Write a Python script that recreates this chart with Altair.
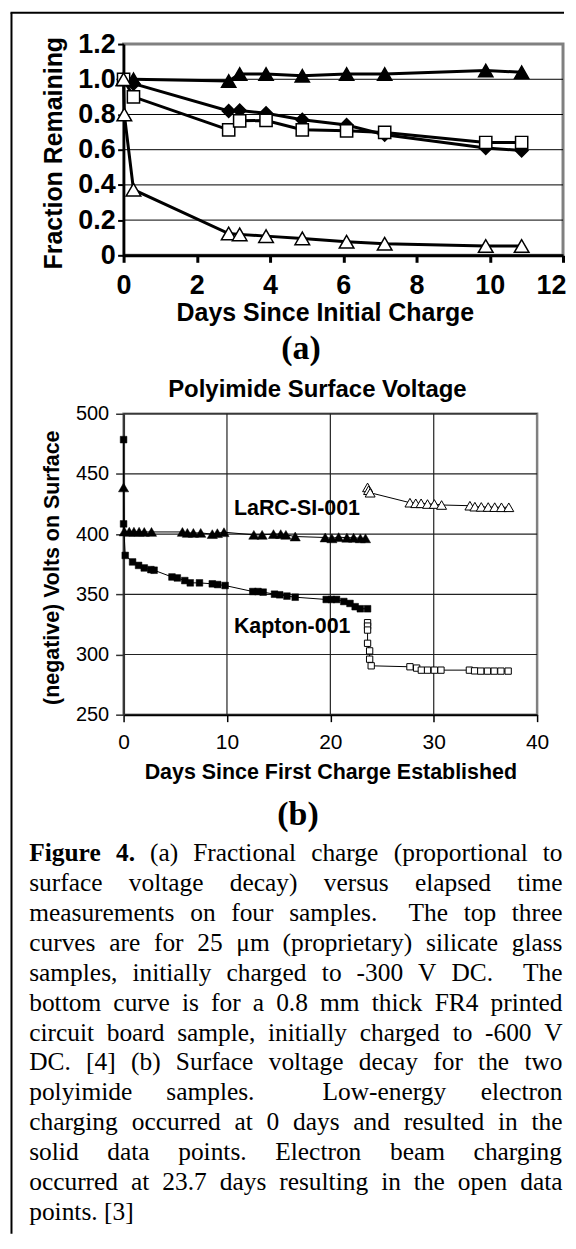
import altair as alt
import pandas as pd

# ---------------- panel (a): fraction remaining ----------------
a_days = [0, 0.27, 2.87, 3.17, 3.89, 4.88, 6.09, 7.13, 9.89, 10.87]
a_tri_filled = [1.0, 1.0, 0.99, 1.03, 1.03, 1.02, 1.03, 1.03, 1.05, 1.04]
a_diamond = [1.0, 0.975, 0.82, 0.823, 0.807, 0.77, 0.74, 0.685, 0.61, 0.595]
a_square_open = [1.0, 0.90, 0.713, 0.764, 0.766, 0.713, 0.707, 0.698, 0.641, 0.641]
a_days_tri_open = [0, 0.02, 0.27, 2.87, 3.17, 3.89, 4.88, 6.09, 7.13, 9.89, 10.87]
a_tri_open = [1.0, 0.80, 0.373, 0.124, 0.119, 0.109, 0.096, 0.077, 0.066, 0.053, 0.053]
a_x_ticks = [0, 2, 4, 6, 8, 10, 12]
a_y_ticks = [0, 0.2, 0.4, 0.6, 0.8, 1.0, 1.2]
a_grid = [0.2, 0.4, 0.6, 0.8, 1.0]

# ---------------- panel (b): polyimide surface voltage ----------------
kapton_solid_days = [0, 0, 0.16, 0.87, 1.45, 2.0, 2.64, 2.95, 4.68, 5.2, 5.92, 6.45,
                     7.34, 8.58, 9.1, 9.82, 12.5, 13.0, 13.5, 14.6, 15.1, 15.8, 16.6,
                     19.6, 20.1, 20.6, 21.3, 21.9, 22.4, 22.9, 23.6]
kapton_solid_v = [478.5, 408.5, 382.3, 376.9, 374, 371.9, 370.5, 370, 364.4, 363.6,
                  361.4, 359.5, 359.5, 358.7, 358.1, 357.3, 352.3, 352.3, 351.8, 350.1,
                  349.6, 348.5, 347.6, 345.7, 345.7, 345.7, 344, 342.4, 339.7, 338, 338]
kapton_open_days = [23.6, 23.6, 23.6, 23.6, 23.8, 23.8, 23.95, 27.7, 28.35, 28.8, 29.4,
                    30.06, 30.7, 33.45, 33.95, 34.55, 35.2, 35.85, 36.5, 37.2]
kapton_open_v = [326.4, 323.6, 320.3, 309.3, 303, 296.1, 290.6, 289.8, 288.7, 287, 287,
                 287, 287, 287, 286.4, 286.2, 286.2, 286.2, 286.2, 286.2]
larc_solid_days = [0, 0.07, 0.55, 1.0, 1.5, 2.0, 2.7, 5.69, 6.17, 6.75, 7.46, 8.58, 9.07,
                   9.71, 12.6, 13.4, 14.5, 15.2, 15.7, 16.6, 19.5, 20.15, 20.8, 21.6,
                   22.25, 22.9, 23.4]
larc_solid_v = [438.8, 402.2, 402, 402, 402, 401.8, 401.8, 401.8, 401, 401, 401, 400,
                400.8, 401.6, 399.4, 399.4, 400, 400, 399.4, 398, 397.2, 396.5, 397.5,
                397, 397, 396.5, 396.5]
larc_open_days = [23.6, 23.7, 23.85, 27.7, 28.26, 28.78, 29.4, 30.06, 30.76, 33.5, 33.98,
                  34.6, 35.27, 35.9, 36.55, 37.26]
larc_open_v = [438.8, 436.5, 434.4, 426.1, 425.6, 425.6, 425, 425, 424.2, 423.6, 422.8,
               422.6, 422.5, 422.4, 422.3, 422.3]
b_x_ticks = [0, 10, 20, 30, 40]
b_y_ticks = [250, 300, 350, 400, 450, 500]
b_grid_x = [10, 20, 30]
b_grid_y = [300, 350, 400, 450, 500]
b_labels = ["LaRC-SI-001", "Kapton-001"]
b_label_days = [10.67, 10.67]
b_label_volts = [415.8, 318.2]
b_title = "Polyimide Surface Voltage"

# ---------------- caption ----------------
caption_lines = [
    "Figure 4. (a) Fractional charge (proportional to",
    "surface voltage decay) versus elapsed time",
    "measurements on four samples.  The top three",
    "curves are for 25 \u03bcm (proprietary) silicate glass",
    "samples, initially charged to -300 V DC.  The",
    "bottom curve is for a 0.8 mm thick FR4 printed",
    "circuit board sample, initially charged to -600 V",
    "DC. [4] (b) Surface voltage decay for the two",
    "polyimide samples.  Low-energy electron",
    "charging occurred at 0 days and resulted in the",
    "solid data points. Electron beam charging",
    "occurred at 23.7 days resulting in the open data",
    "points. [3]",
]

# ---------------- layout constants (page pixels) ----------------
ORIGIN_X = 123.0
A_W, A_H = 441, 212
B_W, B_H = 415, 302
SPACING = 159
A_TOP = 42.0
B_TOP = A_TOP + A_H + SPACING
C_TOP = B_TOP + B_H + SPACING
CAP_FS = 25.5
CAP_LEFT, CAP_RIGHT = 28.3, 563.5
CAP_BASE0, CAP_STEP = 862, 30

SANS = "Liberation Sans"
SERIF = "Liberation Serif"

# Times-compatible advance widths (per 1000 em) for the justified caption
_tr = {' ': 250, '(': 333, ')': 333, ',': 250, '-': 333, '.': 250, '[': 333, ']': 333,
       'A': 722, 'B': 667, 'C': 667, 'D': 722, 'E': 611, 'F': 556, 'G': 722, 'H': 722,
       'I': 333, 'J': 389, 'K': 722, 'L': 611, 'M': 889, 'N': 722, 'O': 722, 'P': 556,
       'Q': 722, 'R': 667, 'S': 556, 'T': 611, 'U': 722, 'V': 722, 'W': 944, 'X': 722,
       'Y': 722, 'Z': 611, 'a': 444, 'b': 500, 'c': 444, 'd': 500, 'e': 444, 'f': 333,
       'g': 500, 'h': 500, 'i': 278, 'j': 278, 'k': 500, 'l': 278, 'm': 778, 'n': 500,
       'o': 500, 'p': 500, 'q': 500, 'r': 333, 's': 389, 't': 278, 'u': 500, 'v': 500,
       'w': 722, 'x': 500, 'y': 500, 'z': 444, '\u03bc': 500}
_tb = {'F': 611, 'i': 278, 'g': 500, 'u': 556, 'r': 444, 'e': 444, '4': 500, '.': 250}


def tw(word, bold=False):
    tab = _tb if bold else _tr
    return sum(tab.get(ch, _tr.get(ch, 500)) for ch in word) / 1000.0


W_EM = (CAP_RIGHT - CAP_LEFT) / CAP_FS
cap_rows = []
for li, line in enumerate(caption_lines):
    toks = line.split(' ')
    bolds = [li == 0 and ti < 2 for ti in range(len(toks))]
    widths = [tw(t, b) for t, b in zip(toks, bolds)]
    nsp = len(toks) - 1
    if li < len(caption_lines) - 1 and nsp > 0:
        sp = (W_EM - sum(widths)) / nsp
    else:
        sp = 0.25
    xx = 0.0
    for t, w, b in zip(toks, widths, bolds):
        if t:
            cap_rows.append({"word": t, "line": li, "xem": xx, "bold": b})
        xx += w + sp
cap_df = pd.DataFrame(cap_rows)

# ---------------- dataframes ----------------
rows = []
for name, dd, vv in [("tri_filled", a_days, a_tri_filled), ("diamond", a_days, a_diamond),
                     ("square_open", a_days, a_square_open),
                     ("tri_open", a_days_tri_open, a_tri_open)]:
    for i, (d, v) in enumerate(zip(dd, vv)):
        rows.append({"series": name, "day": d, "value": v, "order": i})
a_df = pd.DataFrame(rows)
a_grid_df = pd.DataFrame({"value": a_grid})

rows = []
for name, dd, vv in [("kapton_solid", kapton_solid_days, kapton_solid_v),
                     ("kapton_open", kapton_open_days, kapton_open_v),
                     ("larc_solid", larc_solid_days, larc_solid_v),
                     ("larc_open", larc_open_days, larc_open_v)]:
    for i, (d, v) in enumerate(zip(dd, vv)):
        rows.append({"series": name, "day": d, "volts": v, "order": i})
b_df = pd.DataFrame(rows)
b_gx_df = pd.DataFrame({"day": b_grid_x})
b_gy_df = pd.DataFrame({"volts": b_grid_y})
b_lab_df = pd.DataFrame({"label": b_labels, "day": b_label_days, "volts": b_label_volts})
one = pd.DataFrame({"t": ["(a)"]})
one_b = pd.DataFrame({"t": ["(b)"]})
one_title = pd.DataFrame({"t": [b_title]})

# ---------------- chart (a) ----------------
xa = alt.X("day:Q", scale=alt.Scale(domain=[0, 12], nice=False, zero=False),
           axis=alt.Axis(values=a_x_ticks, grid=False, title="Days Since Initial Charge",
                         labelFlush=False,
                         domainColor="black", domainWidth=3, tickColor="black", tickWidth=3,
                         tickSize=7, labelFont=SANS, labelFontWeight="bold", labelFontSize=27,
                         labelColor="black", labelPadding=10,
                         labelOffset={"condition": {"test": "datum.value == 12", "value": -12},
                                      "value": 0},
                         titleFont=SANS, titleFontWeight="bold", titleFontSize=25,
                         titleColor="black", titleX=202, titleY=65, titleAlign="center",
                         titleBaseline="alphabetic"))
ya = alt.Y("value:Q", scale=alt.Scale(domain=[0, 1.2], nice=False, zero=False),
           axis=alt.Axis(values=a_y_ticks, grid=False, title="Fraction Remaining",
                         labelExpr="datum.value == 0 ? '0' : format(datum.value, '.1f')",
                         labelFlush=False,
                         domainColor="black", domainWidth=2.5, tickColor="black", tickWidth=2,
                         tickSize=6, labelFont=SANS, labelFontWeight="bold", labelFontSize=27,
                         labelColor="black", labelPadding=2.5,
                         titleFont=SANS, titleFontWeight="bold", titleFontSize=25,
                         titleColor="black", titleX=-57, titleY=109, titleAngle=270,
                         titleBaseline="bottom"))

a_base = alt.Chart(a_df)
a_gridl = alt.Chart(a_grid_df).mark_rule(color="black", strokeWidth=1).encode(y=ya)
a_lines = a_base.mark_line(color="black", strokeWidth=3).encode(
    x=xa, y=ya, detail="series:N", order="order:Q")


def a_pts(series, shape, size, fill):
    return a_base.transform_filter(alt.datum.series == series).mark_point(
        shape=shape, size=size, filled=True, fill=fill, stroke="black",
        strokeWidth=1.5, opacity=1).encode(x=xa, y=ya)


a_label = alt.Chart(one).mark_text(font=SERIF, fontWeight="bold", fontSize=34,
                                   align="center", baseline="alphabetic",
                                   color="black").encode(
    x=alt.value(301 - ORIGIN_X), y=alt.value(358 - A_TOP), text="t:N")
# outer figure frame (left and top edges; the rest lies outside the crop)
border_v = alt.Chart(one).mark_rule(color="black", strokeWidth=2).encode(
    x=alt.value(10.5 - ORIGIN_X), y=alt.value(10.5 - A_TOP), y2=alt.value(1236 - A_TOP))
border_h = alt.Chart(one).mark_rule(color="black", strokeWidth=2).encode(
    x=alt.value(9.5 - ORIGIN_X), x2=alt.value(565 - ORIGIN_X), y=alt.value(10.5 - A_TOP))

chart_a = alt.layer(
    a_gridl, a_lines,
    a_pts("diamond", "diamond", 165, "black"),
    a_pts("tri_filled", "triangle-up", 205, "black"),
    a_pts("square_open", "square", 150, "white"),
    a_pts("tri_open", "triangle-up", 215, "white"),
    a_label, border_v, border_h,
).properties(width=A_W, height=A_H,
             view=alt.ViewBackground(stroke="#808080", strokeWidth=3, fill="white"))

# ---------------- chart (b) ----------------
xb = alt.X("day:Q", scale=alt.Scale(domain=[0, 40], nice=False, zero=False),
           axis=alt.Axis(values=b_x_ticks, grid=False, labelFlush=False,
                         title="Days Since First Charge Established",
                         domainColor="black", domainWidth=2, tickColor="black", tickWidth=1.5,
                         tickSize=7, labelFont=SANS, labelFontSize=21, labelColor="black",
                         labelPadding=10, titleFont=SANS, titleFontWeight="bold",
                         titleFontSize=21.5, titleColor="black", titleY=64.5,
                         titleBaseline="alphabetic"))
yb = alt.Y("volts:Q", scale=alt.Scale(domain=[250, 500], nice=False, zero=False),
           axis=alt.Axis(values=b_y_ticks, grid=False, format="d", labelFlush=False,
                         title="(negative) Volts on Surface",
                         domainColor="#333333", domainWidth=2, tickColor="#333333",
                         tickWidth=1.5, tickSize=8, labelFont=SANS, labelFontSize=20,
                         labelColor="black", labelPadding=7,
                         titleFont=SANS, titleFontWeight="bold", titleFontSize=21.5,
                         titleColor="black", titleX=-60.5, titleY=154, titleAngle=270,
                         titleBaseline="bottom"))

b_base = alt.Chart(b_df)
b_gx = alt.Chart(b_gx_df).mark_rule(color="#222222", strokeWidth=1.2).encode(x=xb)
b_gy = alt.Chart(b_gy_df).mark_rule(color="#222222", strokeWidth=1.2).encode(y=yb)
b_lines = b_base.mark_line(color="black", strokeWidth=1).encode(
    x=xb, y=yb, detail="series:N", order="order:Q")


def b_pts(series, shape, size, fill, sw):
    return b_base.transform_filter(alt.datum.series == series).mark_point(
        shape=shape, size=size, filled=True, fill=fill, stroke="black",
        strokeWidth=sw, opacity=1).encode(x=xb, y=yb)


b_text = alt.Chart(b_lab_df).mark_text(font=SANS, fontWeight="bold", fontSize=21.5,
                                       align="left", baseline="alphabetic",
                                       color="black").encode(x=xb, y=yb, text="label:N")
b_head = alt.Chart(one_title).mark_text(font=SANS, fontWeight="bold", fontSize=24,
                                        align="center", baseline="alphabetic",
                                        color="black").encode(
    x=alt.value(317.5 - ORIGIN_X), y=alt.value(396.5 - B_TOP), text="t:N")

chart_b = alt.layer(
    b_gx, b_gy, b_lines,
    b_pts("larc_solid", "triangle-up", 105, "black", 0.5),
    b_pts("kapton_solid", "square", 45, "black", 0.5),
    b_pts("kapton_open", "square", 40, "white", 1),
    b_pts("larc_open", "triangle-up", 100, "white", 1),
    b_text, b_head,
).properties(
    width=B_W, height=B_H,
    view=alt.ViewBackground(stroke="#808080", strokeWidth=2.5, fill="white"),
)

# ---------------- caption chart ----------------
xc = alt.X("xem:Q", scale=alt.Scale(domain=[0, W_EM], range=[CAP_LEFT - ORIGIN_X,
                                                              CAP_RIGHT - ORIGIN_X],
                                     nice=False, zero=False), axis=None)
yc = alt.Y("line:Q", scale=alt.Scale(domain=[0, 12],
                                     range=[CAP_BASE0 - C_TOP,
                                            CAP_BASE0 + 12 * CAP_STEP - C_TOP],
                                     nice=False, zero=False), axis=None)
cap_base = alt.Chart(cap_df)
cap_reg = cap_base.transform_filter("!datum.bold").mark_text(
    font=SERIF, fontSize=CAP_FS, align="left", baseline="alphabetic", color="black"
).encode(x=xc, y=yc, text="word:N")
cap_bold = cap_base.transform_filter("datum.bold").mark_text(
    font=SERIF, fontSize=CAP_FS, fontWeight="bold", align="left", baseline="alphabetic",
    color="black").encode(x=xc, y=yc, text="word:N")
b_label = alt.Chart(one_b).mark_text(font=SERIF, fontWeight="bold", fontSize=34,
                                     align="center", baseline="alphabetic",
                                     color="black").encode(
    x=alt.value(298 - ORIGIN_X), y=alt.value(826 - C_TOP), text="t:N")

chart_c = alt.layer(b_label, cap_reg, cap_bold).properties(width=B_W, height=330)

chart = alt.vconcat(chart_a, chart_b, chart_c, spacing=SPACING, bounds="flush").properties(
    padding={"left": 0, "top": 0, "right": 0, "bottom": 0},
    background="white",
).configure_view(strokeWidth=0)

chart.save("out.html", embed_options={"renderer": "svg", "actions": False})
